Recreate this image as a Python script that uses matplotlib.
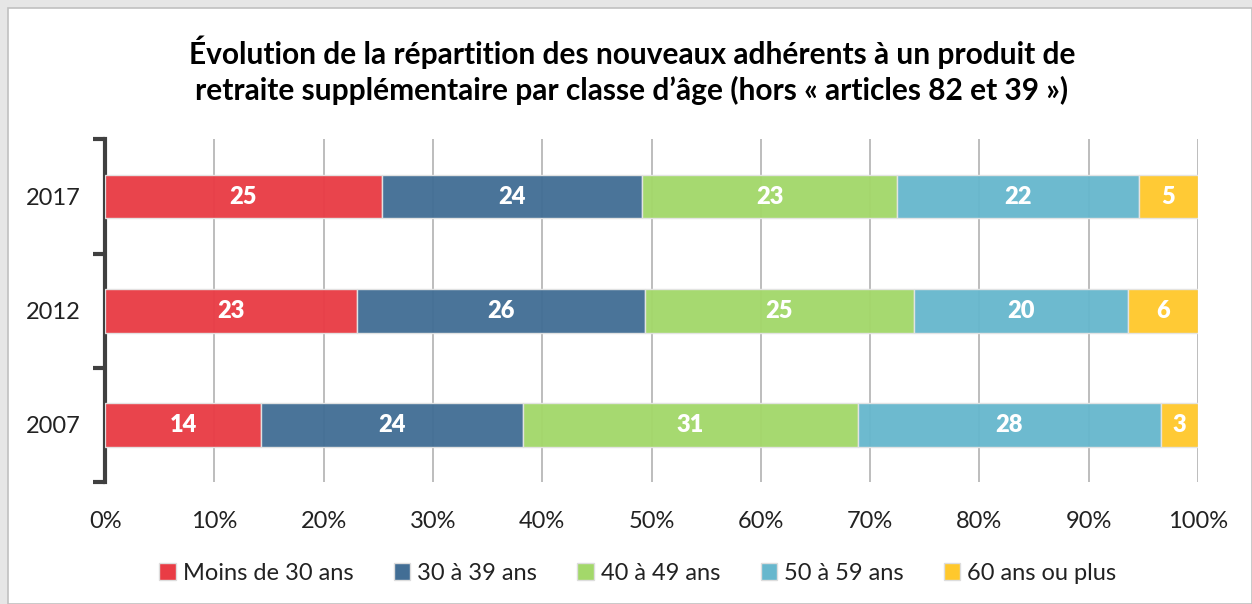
import matplotlib
matplotlib.use("Agg")
import matplotlib.pyplot as plt
from matplotlib.patches import Rectangle, Patch
import numpy as np

# ---- data ----
years = ["2017", "2012", "2007"]
series_names = ["Moins de 30 ans", "30 à 39 ans", "40 à 49 ans", "50 à 59 ans", "60 ans ou plus"]
moins_30 = [25.3, 23.0, 14.3]
de_30_39 = [23.8, 26.4, 23.9]
de_40_49 = [23.4, 24.6, 30.7]
de_50_59 = [22.1, 19.6, 27.7]
plus_60 = [5.4, 6.4, 3.4]
colors = ["#E93C45", "#426E95", "#A3D86A", "#67B7CD", "#FFC82C"]
x_ticks = [0, 10, 20, 30, 40, 50, 60, 70, 80, 90, 100]
title = ("Évolution de la répartition des nouveaux adhérents à un produit de\n"
         "retraite supplémentaire par classe d’âge (hors « articles 82 et 39 »)")

series = [moins_30, de_30_39, de_40_49, de_50_59, plus_60]

FONT = "Lato"
W, H = 1252, 604
fig = plt.figure(figsize=(W / 100, H / 100), dpi=100)
fig.patch.set_facecolor("#e6e6e6")
# white framed area
fig.patches.append(Rectangle((8 / W, 0), 1 - 8 / W, 1 - 8 / H, transform=fig.transFigure,
                             facecolor="white", edgecolor="#c0c0c0", linewidth=1.2, zorder=-10))

ax = fig.add_axes([105.2 / W, (H - 482) / H, (1198 - 105.2) / W, 342.6 / H])
ax.set_facecolor("none")

ypos = np.arange(len(years))
left = np.zeros(len(years))
for vals, name, col in zip(series, series_names, colors):
    vals = np.array(vals)
    bars = ax.barh(ypos, vals, left=left, height=0.385, color=col, alpha=0.96,
                   edgecolor="#e4e4e4", linewidth=1.0, label=name, zorder=3)
    for b, v in zip(bars, vals):
        ax.text(b.get_x() + b.get_width() / 2, b.get_y() + b.get_height() / 2,
                f"{v:.0f}", ha="center", va="center", color="white",
                fontsize=17, fontweight="heavy", family=FONT, zorder=4)
    left += vals

ax.set_xlim(0, 100)
ax.set_ylim(2.5, -0.5)
ax.set_xticks(x_ticks)
ax.set_xticklabels([f"{t}%" for t in x_ticks], fontsize=17, family=FONT, color="#222222")
ax.tick_params(axis="x", length=0, pad=21)
ax.xaxis.grid(True, color="#b8b8b8", linewidth=1.3, zorder=1)
ax.set_axisbelow(True)

ax.set_yticks(ypos)
ax.set_yticklabels(years, fontsize=17, family=FONT, color="#222222")
ax.tick_params(axis="y", which="major", length=0, pad=18)
ax.set_yticks([-0.5, 0.5, 1.5, 2.5], minor=True)
ax.tick_params(axis="y", which="minor", length=9, width=3, color="#404040")

for s in ["top", "right", "bottom"]:
    ax.spines[s].set_visible(False)
ax.spines["left"].set_color("#404040")
ax.spines["left"].set_linewidth(3)

fig.text(632 / W, 1 - 70 / H, title, ha="center", va="center", fontsize=21.5,
         fontweight="bold", family=FONT, color="#000000", linespacing=1.3)

handles = [Patch(facecolor=c, edgecolor="#dddddd", label=n) for c, n in zip(colors, series_names)]
fig.legend(handles=handles, loc="center", bbox_to_anchor=(638 / W, 1 - 573 / H), ncol=5,
           frameon=False, prop={"family": FONT, "size": 17}, handlelength=0.7,
           handleheight=0.7, handletextpad=0.3, columnspacing=1.7, labelcolor="#222222")

fig.savefig("out.png", dpi=100)
